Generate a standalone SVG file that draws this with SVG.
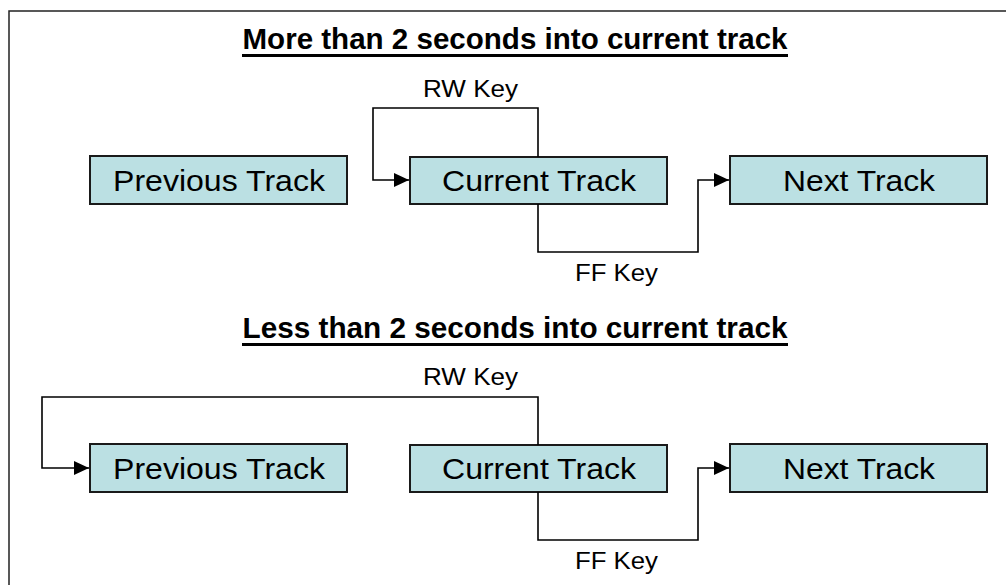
<svg xmlns="http://www.w3.org/2000/svg" width="1006" height="585" viewBox="0 0 1006 585">
  <style>
    .frame { stroke: #222; stroke-width: 1.5; fill: none; }
    .box { fill: #BBE0E3; stroke: #1a1a1a; stroke-width: 2; }
    .boxtext { font-family: "Liberation Sans", Arial, sans-serif; font-size: 30px; fill: #000; text-anchor: middle; }
    .title { font-family: "Liberation Sans", Arial, sans-serif; font-size: 29px; font-weight: bold; fill: #000; text-anchor: middle; }
    .uline { stroke: #000; stroke-width: 3; }
    .label { font-family: "Liberation Sans", Arial, sans-serif; font-size: 23px; fill: #000; text-anchor: middle; }
    .conn { fill: none; stroke: #000; stroke-width: 1.6; marker-end: url(#arrow); }
  </style>
  <defs>
    <marker id="arrow" markerUnits="userSpaceOnUse" markerWidth="15" markerHeight="14" refX="15" refY="7" orient="auto">
      <path d="M0,0 L15,7 L0,14 z" fill="#000"/>
    </marker>
  </defs>

  <rect width="1006" height="585" fill="#fff"/>

  <!-- outer frame: top and left edges only -->
  <path class="frame" d="M9,585 V11 H1006"/>

  <!-- section titles -->
  <g id="title-more">
    <text class="title" x="515" y="49" textLength="545" lengthAdjust="spacingAndGlyphs">More than 2 seconds into current track</text>
    <line class="uline" x1="242" y1="55.5" x2="788" y2="55.5"/>
  </g>
  <g id="title-less">
    <text class="title" x="515" y="338" textLength="545" lengthAdjust="spacingAndGlyphs">Less than 2 seconds into current track</text>
    <line class="uline" x1="242" y1="344.5" x2="788" y2="344.5"/>
  </g>

  <!-- upper section nodes -->
  <g id="prev-1">
    <rect class="box" x="90" y="156" width="257" height="48"/>
    <text class="boxtext" x="219" y="191" textLength="212" lengthAdjust="spacingAndGlyphs">Previous Track</text>
  </g>
  <g id="current-1">
    <rect class="box" x="410" y="157" width="257" height="47"/>
    <text class="boxtext" x="539" y="191" textLength="194" lengthAdjust="spacingAndGlyphs">Current Track</text>
  </g>
  <g id="next-1">
    <rect class="box" x="730" y="156" width="257" height="48"/>
    <text class="boxtext" x="859" y="191" textLength="152" lengthAdjust="spacingAndGlyphs">Next Track</text>
  </g>

  <!-- lower section nodes -->
  <g id="prev-2">
    <rect class="box" x="90" y="444" width="257" height="48"/>
    <text class="boxtext" x="219" y="479" textLength="212" lengthAdjust="spacingAndGlyphs">Previous Track</text>
  </g>
  <g id="current-2">
    <rect class="box" x="410" y="445" width="257" height="47"/>
    <text class="boxtext" x="539" y="479" textLength="194" lengthAdjust="spacingAndGlyphs">Current Track</text>
  </g>
  <g id="next-2">
    <rect class="box" x="730" y="444" width="257" height="48"/>
    <text class="boxtext" x="859" y="479" textLength="152" lengthAdjust="spacingAndGlyphs">Next Track</text>
  </g>

  <!-- connectors -->
  <g id="connectors">
    <path class="conn" d="M538,157 V108 H373 V180 H409"/>
    <path class="conn" d="M538,204 V252 H698 V180 H729"/>
    <path class="conn" d="M538,445 V397 H42 V468 H89"/>
    <path class="conn" d="M538,492 V540 H698 V468 H729"/>
    <text class="label" x="470.5" y="97" textLength="95" lengthAdjust="spacingAndGlyphs">RW Key</text>
    <text class="label" x="616.5" y="281" textLength="83" lengthAdjust="spacingAndGlyphs">FF Key</text>
    <text class="label" x="470.5" y="385" textLength="95" lengthAdjust="spacingAndGlyphs">RW Key</text>
    <text class="label" x="616.5" y="569" textLength="83" lengthAdjust="spacingAndGlyphs">FF Key</text>
  </g>
</svg>
